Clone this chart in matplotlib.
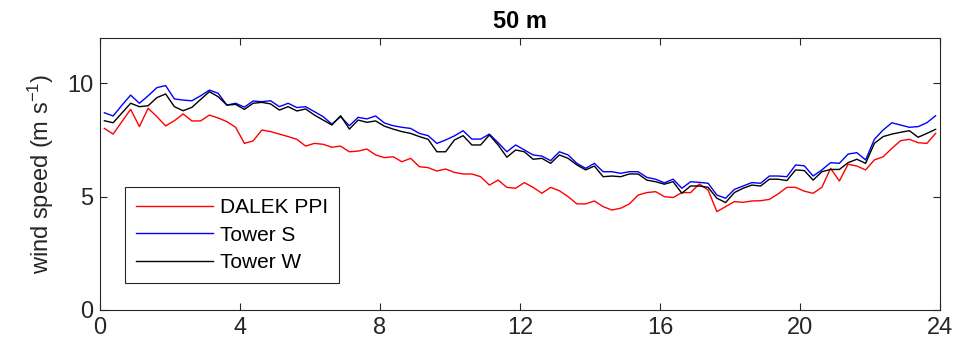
import numpy as np
import matplotlib.pyplot as plt

# 15-minute averages over one day (hours)
hours = 0.125 + 0.25 * np.arange(96)

dalek_ppi = [8.01, 7.76, 8.31, 8.85, 8.09, 8.90, 8.53, 8.12, 8.35, 8.65, 8.34, 8.34, 8.60, 8.47, 8.31, 8.06,
             7.35, 7.46, 7.94, 7.87, 7.76, 7.65, 7.53, 7.23, 7.35, 7.31, 7.18, 7.23, 6.98, 7.01, 7.10, 6.84,
             6.72, 6.76, 6.54, 6.69, 6.32, 6.28, 6.13, 6.22, 6.07, 6.00, 6.00, 5.88, 5.51, 5.73, 5.41, 5.37,
             5.62, 5.41, 5.15, 5.41, 5.26, 5.00, 4.68, 4.68, 4.81, 4.56, 4.41, 4.49, 4.68, 5.07, 5.18, 5.22,
             5.00, 4.96, 5.18, 5.18, 5.56, 5.29, 4.34, 4.56, 4.78, 4.75, 4.81, 4.82, 4.88, 5.12, 5.41, 5.41,
             5.24, 5.15, 5.41, 6.25, 5.69, 6.43, 6.35, 6.18, 6.62, 6.76, 7.13, 7.47, 7.53, 7.38, 7.35, 7.79]

tower_s = [8.70, 8.56, 9.03, 9.48, 9.12, 9.45, 9.81, 9.90, 9.31, 9.26, 9.23, 9.45, 9.70, 9.56, 9.04, 9.12,
           8.95, 9.22, 9.19, 9.23, 8.97, 9.12, 8.93, 8.97, 8.75, 8.53, 8.20, 8.53, 8.13, 8.50, 8.43, 8.56,
           8.25, 8.13, 8.06, 8.01, 7.79, 7.69, 7.35, 7.50, 7.68, 7.91, 7.54, 7.54, 7.76, 7.38, 6.98, 7.28,
           7.06, 6.84, 6.79, 6.59, 6.98, 6.84, 6.47, 6.25, 6.47, 6.10, 6.10, 6.03, 6.10, 6.10, 5.85, 5.77,
           5.61, 5.77, 5.37, 5.66, 5.63, 5.59, 5.07, 4.93, 5.32, 5.47, 5.62, 5.59, 5.91, 5.91, 5.88, 6.40,
           6.36, 5.91, 6.18, 6.50, 6.47, 6.88, 6.94, 6.62, 7.53, 7.94, 8.26, 8.16, 8.06, 8.09, 8.26, 8.57]

tower_w = [8.35, 8.26, 8.69, 9.12, 8.97, 9.01, 9.37, 9.53, 8.97, 8.79, 8.94, 9.29, 9.63, 9.41, 9.04, 9.07,
           8.85, 9.12, 9.16, 9.09, 8.82, 8.97, 8.78, 8.87, 8.60, 8.38, 8.16, 8.57, 7.98, 8.38, 8.28, 8.34,
           8.11, 7.98, 7.87, 7.79, 7.65, 7.53, 6.98, 6.98, 7.50, 7.69, 7.28, 7.28, 7.72, 7.28, 6.74, 7.06,
           6.98, 6.65, 6.69, 6.47, 6.84, 6.69, 6.40, 6.18, 6.35, 5.88, 5.91, 5.88, 6.00, 6.00, 5.73, 5.66,
           5.55, 5.66, 5.15, 5.47, 5.47, 5.41, 4.93, 4.74, 5.18, 5.37, 5.51, 5.47, 5.77, 5.77, 5.71, 6.18,
           6.15, 5.73, 6.10, 6.20, 6.20, 6.50, 6.65, 6.47, 7.35, 7.65, 7.76, 7.84, 7.91, 7.62, 7.79, 7.97]

xticks = [0, 4, 8, 12, 16, 20, 24]
yticks = [0, 5, 10]

plt.rcParams['font.family'] = ['Liberation Sans', 'DejaVu Sans']
plt.rcParams['mathtext.default'] = 'regular'

fig = plt.figure(figsize=(9.58, 3.55), dpi=100)
ax = fig.add_axes([0.1044, 0.1268, 0.8768, 0.7662])

ax.plot(hours, dalek_ppi, color='red', lw=1.0, label='DALEK PPI')
ax.plot(hours, tower_s, color='blue', lw=1.0, label='Tower S')
ax.plot(hours, tower_w, color='black', lw=1.0, label='Tower W')

ax.set_xlim(0, 24)
ax.set_ylim(0, 12)
ax.set_xticks(xticks)
ax.set_yticks(yticks)
ax.tick_params(direction='in', top=True, right=True, labelsize=17, length=5,
               width=0.8, colors='#262626', pad=5)
for s in ax.spines.values():
    s.set_color('#262626')
    s.set_linewidth(0.8)

ax.set_ylabel('wind speed (m s$^{-1}$)', fontsize=17, color='#262626', labelpad=8)
ax.set_title('50 m', fontsize=17, fontweight='bold', pad=7)

leg = ax.legend(loc='lower left', bbox_to_anchor=(0.03, 0.1), borderaxespad=0,
                fontsize=15, handlelength=3.7, handletextpad=0.35, labelspacing=0.42,
                borderpad=0.5, fancybox=False, edgecolor='#262626', framealpha=1)
leg.get_frame().set_linewidth(0.8)

fig.savefig('out.png', dpi=100)
